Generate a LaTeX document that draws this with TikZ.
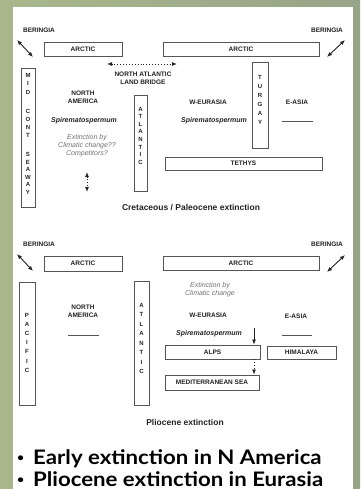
\documentclass[tikz,border=0pt]{standalone}
\usepackage{fontspec}
\setsansfont{Liberation Sans}
\newfontfamily\bulletfont{Lato}[FakeStretch=1.11]
\usepackage{tikz}
\usetikzlibrary{arrows.meta}
\definecolor{photoL}{RGB}{168,184,140}
\definecolor{photoR}{RGB}{150,164,136}
\definecolor{ink}{RGB}{35,35,35}
\definecolor{frame}{RGB}{85,85,85}
\definecolor{note}{RGB}{115,115,115}
\tikzset{
	region/.style={draw=frame, line width=.9pt, inner sep=0pt, text=ink, font=\sffamily\bfseries\fontsize{6.5}{7}\selectfont},
	areaname/.style={text=ink, inner sep=0pt, align=center, font=\sffamily\bfseries\fontsize{6.5}{8.5}\selectfont},
	letter/.style={text=ink, inner sep=0pt, font=\sffamily\bfseries\fontsize{6}{7}\selectfont},
	species/.style={text=ink, inner sep=0pt, font=\sffamily\bfseries\itshape\fontsize{7}{8}\selectfont},
	remark/.style={text=note, inner sep=0pt, align=center, font=\sffamily\itshape\fontsize{7}{8}\selectfont},
	caption/.style={text=ink, inner sep=0pt, font=\sffamily\bfseries\fontsize{8.5}{10}\selectfont},
	bullet/.style={text=black, inner sep=0pt, anchor=base west, font=\bulletfont\bfseries\fontsize{20}{22}\selectfont},
	dotmark/.style={text=black, inner sep=0pt, anchor=base west, font=\bulletfont\bfseries\fontsize{11}{12}\selectfont},
	twoway/.style={{Latex[length=5pt,width=4pt]}-{Latex[length=5pt,width=4pt]}, line width=.9pt, ink},
	oneway/.style={-{Latex[length=5pt,width=4pt]}, line width=.7pt, ink},
	gap/.style={draw=frame, line width=.8pt},
}
\begin{document}
\begin{tikzpicture}[x=1pt, y=-1pt]
	\useasboundingbox (0,0) rectangle (360,489);
	\shade[left color=photoL, right color=photoR] (0,0) rectangle (360,489);
	\fill[white] (13,7) rectangle (353,489);

	% Cretaceous / Paleocene
	\node[areaname] (ber1) at (39,30) {BERINGIA};
	\node[areaname] (ber2) at (327,30) {BERINGIA};
	\coordinate (bw1) at (17,40);
	\coordinate (bw2) at (33,57);
	\coordinate (be1) at (327,57);
	\coordinate (be2) at (345,40);
	\draw[twoway] (bw1) -- (bw2);
	\draw[twoway] (be1) -- (be2);
	\node[region, minimum width=78pt, minimum height=14pt] (arc1) at (83,49) {ARCTIC};
	\node[region, minimum width=156pt, minimum height=14pt] (arc2) at (241,49) {ARCTIC};
	\coordinate (lb1) at (107,64);
	\coordinate (lb2) at (177,64);
	\draw[twoway, dotted] (lb1) -- (lb2);
	\node[areaname] (nalb) at (143,78.5) {NORTH ATLANTIC\\LAND BRIDGE};
	\node[region, minimum width=14pt, minimum height=139pt] (mcs) at (28,137.5) {};
	\foreach \l/\y [count=\k] in {M/75,I/83,D/92,C/111,O/119,N/127,T/135,S/154,E/162,A/169,W/177,A/184,Y/192}
		\node[letter] (mcs\k) at (28,\y) {\l};
	\node[areaname] (nam1) at (83,97.5) {NORTH\\AMERICA};
	\node[species] (spi1) at (84,121) {Spirematospermum};
	\node[remark] (ext1) at (87,146) {Extinction by\\Climatic change??\\Competitors?};
	\coordinate (up1) at (87,172);
	\coordinate (dn1) at (87,192);
	\draw[twoway, dotted] (up1) -- (dn1);
	\node[region, minimum width=13pt, minimum height=96pt] (atl1) at (140.5,143) {};
	\foreach \l [count=\k] in {A,T,L,A,N,T,I,C}
		\node[letter] (atlA\k) at (140.5,{101.4+7.6*\k}) {\l};
	\node[areaname] (weu1) at (208,102) {W-EURASIA};
	\node[species] (spi2) at (214,121) {Spirematospermum};
	\node[region, minimum width=16pt, minimum height=86pt] (tur) at (260,105) {};
	\foreach \l [count=\k] in {T,U,R,G,A,Y}
		\node[letter] (tur\k) at (260,{68+9*\k}) {\l};
	\node[areaname] (eas1) at (297,102) {E-ASIA};
	\draw[gap] (282,121) -- (313,121);
	\node[region, minimum width=157pt, minimum height=13pt] (tet) at (243.5,163.5) {TETHYS};
	\node[caption] (cap1) at (191,208) {Cretaceous / Paleocene extinction};

	% Pliocene
	\node[areaname] (ber3) at (39,244) {BERINGIA};
	\node[areaname] (ber4) at (327,244) {BERINGIA};
	\coordinate (bw3) at (17,254);
	\coordinate (bw4) at (33,271);
	\coordinate (be3) at (327,272);
	\coordinate (be4) at (345,255);
	\draw[twoway] (bw3) -- (bw4);
	\draw[twoway] (be3) -- (be4);
	\node[region, minimum width=78pt, minimum height=15pt] (arc3) at (83,263.5) {ARCTIC};
	\node[region, minimum width=156pt, minimum height=14pt] (arc4) at (241,263) {ARCTIC};
	\node[region, minimum width=16pt, minimum height=123pt] (pac) at (27,343.5) {};
	\foreach \l [count=\k] in {P,A,C,I,F,I,C}
		\node[letter] (pac\k) at (27,{305.8+9.2*\k}) {\l};
	\node[areaname] (nam2) at (83,311.5) {NORTH\\AMERICA};
	\draw[gap] (68,335) -- (99,335);
	\node[region, minimum width=15pt, minimum height=124pt] (atl2) at (141.5,343) {};
	\foreach \l [count=\k] in {A,T,L,A,N,T,I,C}
		\node[letter] (atlB\k) at (141.5,{295.5+9.5*\k}) {\l};
	\node[remark] (ext2) at (210,290) {Extinction by\\Climatic change};
	\node[areaname] (weu2) at (208,315) {W-EURASIA};
	\node[areaname] (eas2) at (296,316) {E-ASIA};
	\node[species] (spi3) at (209,334) {Spirematospermum};
	\draw[gap] (282,335) -- (312,335);
	\node[region, minimum width=95pt, minimum height=14pt] (alps) at (212.5,352) {ALPS};
	\node[region, minimum width=69pt, minimum height=13pt] (him) at (301.5,352.5) {HIMALAYA};
	\node[region, minimum width=94pt, minimum height=15pt] (med) at (212,382.5) {MEDITERRANEAN SEA};
	\coordinate (drop) at (254,328);
	\draw[oneway] (drop) -- (drop |- alps.north);
	\draw[oneway, dotted] (alps.south -| drop) -- (med.north -| drop);
	\node[caption] (cap2) at (185,422) {Pliocene extinction};

	\node[dotmark] (dot1) at (17,461) {\textbullet};
	\node[bullet] (txt1) at (33,464) {Early extinction in N America};
	\node[dotmark] (dot2) at (17,483) {\textbullet};
	\node[bullet] (txt2) at (33,486) {Pliocene extinction in Eurasia};
\end{tikzpicture}
\end{document}
